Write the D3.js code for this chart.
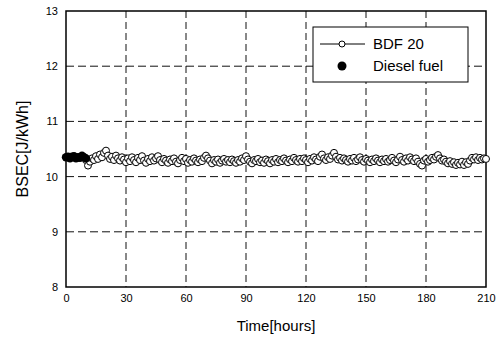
<!DOCTYPE html>
<html>
<head>
<meta charset="utf-8">
<script src="https://cdn.jsdelivr.net/npm/d3@7"></script>
<style>
  body { margin: 0; background: #fff; }
  svg { display: block; font-family: "Liberation Sans", Arial, sans-serif; }
</style>
</head>
<body>
<div id="chart"></div>
<script>
const xTicks = [0, 30, 60, 90, 120, 150, 180, 210];
const yTicks = [8, 9, 10, 11, 12, 13];

const dieselHours = [0, 1, 2, 3, 4, 5, 6, 7, 8, 9, 10];
const dieselBsec = [10.35, 10.36, 10.33, 10.36, 10.37, 10.33, 10.35, 10.34, 10.38, 10.35, 10.33];

// BDF 20, one reading per hour from hour 10 to hour 210
const bdfStart = 10;
const bdfBsec = [
    10.30, 10.20, 10.27, 10.33, 10.30, 10.37, 10.32, 10.40, 10.35, 10.43, 10.47,
    10.38, 10.32, 10.36, 10.30, 10.38, 10.33, 10.29, 10.35, 10.31, 10.26,
    10.33, 10.28, 10.35, 10.30, 10.26, 10.34, 10.30, 10.37, 10.29, 10.25,
    10.32, 10.28, 10.35, 10.29, 10.33, 10.37, 10.30, 10.26, 10.32, 10.29,
    10.25, 10.31, 10.28, 10.33, 10.27, 10.24, 10.30, 10.34, 10.28, 10.32,
    10.25, 10.30, 10.27, 10.33, 10.29, 10.26, 10.31, 10.28, 10.34, 10.38,
    10.33, 10.29, 10.24, 10.30, 10.27, 10.31, 10.25, 10.29, 10.32, 10.27,
    10.30, 10.26, 10.31, 10.28, 10.25, 10.30, 10.27, 10.33, 10.30, 10.37,
    10.31, 10.27, 10.24, 10.30, 10.28, 10.32, 10.26, 10.29, 10.25, 10.31,
    10.28, 10.24, 10.30, 10.27, 10.32, 10.26, 10.30, 10.28, 10.33, 10.29,
    10.26, 10.31, 10.28, 10.34, 10.30, 10.27, 10.32, 10.28, 10.33, 10.30,
    10.26, 10.32, 10.29, 10.35, 10.31, 10.28, 10.36, 10.40, 10.33, 10.30,
    10.35, 10.32, 10.38, 10.43, 10.36, 10.31, 10.34, 10.29, 10.33, 10.30,
    10.27, 10.32, 10.29, 10.34, 10.28, 10.31, 10.35, 10.30, 10.27, 10.32,
    10.29, 10.26, 10.31, 10.28, 10.33, 10.29, 10.26, 10.31, 10.28, 10.32,
    10.27, 10.30, 10.34, 10.29, 10.26, 10.31, 10.36, 10.30, 10.27, 10.33,
    10.29, 10.35, 10.31, 10.28, 10.33, 10.27, 10.23, 10.20, 10.29, 10.32,
    10.27, 10.30, 10.34, 10.31, 10.36, 10.39, 10.33, 10.29, 10.31, 10.27,
    10.24, 10.28, 10.23, 10.26, 10.21, 10.25, 10.22, 10.27, 10.21, 10.26,
    10.23, 10.29, 10.34, 10.31, 10.35, 10.30, 10.34, 10.31, 10.33, 10.32
];

const svg = d3.select("#chart").append("svg")
    .attr("width", 499)
    .attr("height", 338);

let margin = {top: 11, right: 13, bottom: 51, left: 66},
    width = 499 - margin.left - margin.right,
    height = 338 - margin.top - margin.bottom;

let g = svg.append("g").attr("transform", `translate(${margin.left}, ${margin.top})`);

let x = d3.scaleLinear().domain([0, 210]).range([0, width]);
let y = d3.scaleLinear().domain([8, 13]).range([height, 0]);

// dashed grid
g.selectAll(".vgrid")
    .data(xTicks.slice(1, -1))
    .enter().append("line")
    .attr("x1", d => x(d)).attr("x2", d => x(d))
    .attr("y1", 0).attr("y2", height)
    .attr("stroke", "#111").attr("stroke-width", 1)
    .attr("stroke-dasharray", "7,4");

g.selectAll(".hgrid")
    .data(yTicks.slice(1, -1))
    .enter().append("line")
    .attr("x1", 0).attr("x2", width)
    .attr("y1", d => y(d)).attr("y2", d => y(d))
    .attr("stroke", "#111").attr("stroke-width", 1)
    .attr("stroke-dasharray", "8,4");

// axes
g.append("g")
    .attr("transform", `translate(0,${height})`)
    .call(d3.axisBottom(x).tickValues(xTicks).tickSize(0).tickPadding(7).tickFormat(d3.format("d")))
    .call(a => a.select(".domain").remove())
    .selectAll("text")
    .attr("font-size", 11).attr("font-family", "Liberation Sans, Arial, sans-serif").attr("fill", "#000");

g.append("g")
    .call(d3.axisLeft(y).tickValues(yTicks).tickSize(0).tickPadding(8).tickFormat(d3.format("d")))
    .call(a => a.select(".domain").remove())
    .selectAll("text")
    .attr("font-size", 11).attr("font-family", "Liberation Sans, Arial, sans-serif").attr("fill", "#000");

// frame
g.append("rect")
    .attr("width", width).attr("height", height)
    .attr("fill", "none").attr("stroke", "#000").attr("stroke-width", 1.5);

// BDF 20 series
let bdf = bdfBsec.map((v, i) => ({h: bdfStart + i, v: v}));
g.append("path")
    .datum(bdf)
    .attr("fill", "none").attr("stroke", "#000").attr("stroke-width", 0.8)
    .attr("d", d3.line().x(d => x(d.h)).y(d => y(d.v)));

g.selectAll(".bdf")
    .data(bdf)
    .enter().append("circle")
    .attr("cx", d => x(d.h)).attr("cy", d => y(d.v))
    .attr("r", 3.5)
    .attr("fill", "#fff").attr("stroke", "#000").attr("stroke-width", 1);

// Diesel series
let diesel = dieselHours.map((h, i) => ({h: h, v: dieselBsec[i]}));
g.selectAll(".diesel")
    .data(diesel)
    .enter().append("circle")
    .attr("cx", d => x(d.h)).attr("cy", d => y(d.v))
    .attr("r", 4.2)
    .attr("fill", "#000");

// legend
let lg = svg.append("g").attr("transform", "translate(313,27)");
lg.append("rect")
    .attr("width", 155).attr("height", 55)
    .attr("fill", "#fff").attr("stroke", "#000").attr("stroke-width", 1);
lg.append("line")
    .attr("x1", 7).attr("x2", 52).attr("y1", 17).attr("y2", 17)
    .attr("stroke", "#000").attr("stroke-width", 1);
lg.append("circle")
    .attr("cx", 29).attr("cy", 17).attr("r", 3)
    .attr("fill", "#fff").attr("stroke", "#000");
lg.append("text")
    .attr("x", 60).attr("y", 22)
    .attr("font-size", 15)
    .text("BDF 20");
lg.append("circle")
    .attr("cx", 29).attr("cy", 39).attr("r", 4.5)
    .attr("fill", "#000");
lg.append("text")
    .attr("x", 60).attr("y", 44)
    .attr("font-size", 15)
    .text("Diesel fuel");

// axis titles
svg.append("text")
    .attr("x", margin.left + width / 2).attr("y", 331)
    .attr("text-anchor", "middle")
    .attr("font-size", 15)
    .text("Time[hours]");

svg.append("text")
    .attr("transform", `translate(28,${margin.top + height / 2}) rotate(-90)`)
    .attr("text-anchor", "middle")
    .attr("font-size", 16)
    .text("BSEC[J/kWh]");
</script>
</body>
</html>
